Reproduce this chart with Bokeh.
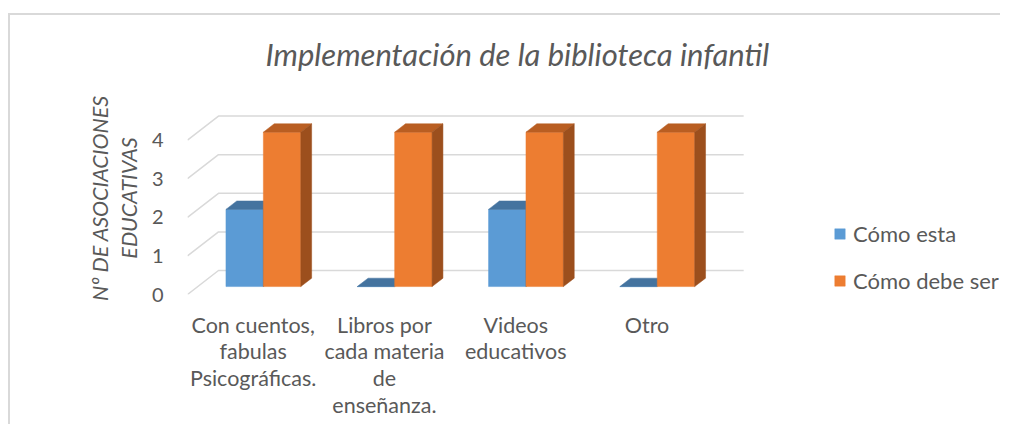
import numpy as np
from bokeh.plotting import figure
from bokeh.models import Legend, LegendItem, FixedTicker
from bokeh.embed import file_html
from bokeh.resources import INLINE

# ---------------- data ----------------
categories = ["Con cuentos,\nfabulas\nPsicográficas.",
              "Libros por\ncada materia\nde\nenseñanza.",
              "Videos\neducativos",
              "Otro"]
como_esta = [2, 0, 2, 0]
como_debe_ser = [4, 4, 4, 4]
series_names = ["Cómo esta", "Cómo debe ser"]
y_ticks = [0, 1, 2, 3, 4]
title_text = "Implementación de la biblioteca infantil"
y_title = "Nº DE ASOCIACIONES\nEDUCATIVAS"

# ---------------- style ----------------
FONT = "Lato"
TXT = "#595959"
GRID = "#D9D9D9"
front_cols = ["#5B9BD5", "#ED7D31"]
top_cols = ["#44739F", "#B95E22"]
side_cols = ["#3B648C", "#9C4F1D"]

# pseudo-3D depth (in data units)
DX, DY = 0.236, 0.622
F0, F1 = 0.33, 0.68
W = 0.285

n = len(categories)
p = figure(width=992, height=416, x_range=(-0.5, 5.692), y_range=(0, 5.0),
           output_backend="svg", toolbar_location=None,
           min_border_left=179, min_border_right=0,
           min_border_top=93, min_border_bottom=130)
# chart-area border (left and top edges) painted behind the transparent canvas border
p.styles = {"margin-left": "8px", "margin-top": "8px",
            "background-color": "white",
            "background-image": "linear-gradient(#D9D9D9, #D9D9D9), linear-gradient(#D9D9D9, #D9D9D9)",
            "background-size": "100% 2px, 2px 100%",
            "background-position": "0px 5px, 0px 5px",
            "background-repeat": "no-repeat"}
p.outline_line_color = None
p.grid.visible = False
p.background_fill_color = "white"
p.border_fill_color = None

# gridlines (back wall + side diagonals)
gx, gy = [], []
for v in y_ticks:
    gx.append([-0.5, -0.5 + DX, n - 0.5 + DX])
    gy.append([v, v + DY, v + DY])
p.multi_line(gx, gy, line_color=GRID, line_width=1.5)

# bars
ddx, ddy = (F1 - F0) * DX, (F1 - F0) * DY
legend_renderers = []
for i in range(n):
    for s, vals in enumerate([como_esta, como_debe_ser]):
        v = vals[i]
        x0 = i + F0 * DX - W + s * W
        x1 = x0 + W
        yb = F0 * DY
        yt = yb + v
        fr = p.quad(left=[x0], right=[x1], bottom=[yb], top=[yt],
                    fill_color=front_cols[s], line_color=front_cols[s], line_width=0.5)
        if i == 0:
            legend_renderers.append(fr)
        p.patch([x0, x1, x1 + ddx, x0 + ddx], [yt, yt, yt + ddy, yt + ddy],
                fill_color=top_cols[s], line_color=top_cols[s], line_width=0.5)
        if v > 0:
            p.patch([x1, x1 + ddx, x1 + ddx, x1], [yb, yb + ddy, yt + ddy, yt],
                    fill_color=side_cols[s], line_color=side_cols[s], line_width=0.5)

# axes
p.xaxis.ticker = FixedTicker(ticks=list(range(n)))
p.xaxis.major_label_overrides = {i: c for i, c in enumerate(categories)}
p.yaxis.ticker = FixedTicker(ticks=y_ticks)
for ax in (p.xaxis[0], p.yaxis[0]):
    ax.axis_line_color = None
    ax.major_tick_line_color = None
    ax.minor_tick_line_color = None
    ax.major_label_text_color = TXT
    ax.major_label_text_font = FONT
p.xaxis.major_label_text_font_size = "21.5px"
p.xaxis.major_label_text_line_height = 1.035
p.xaxis.major_label_standoff = 11
p.yaxis.major_label_text_font_size = "20px"
p.yaxis.major_label_standoff = 18
p.yaxis.axis_label = y_title
p.yaxis.axis_label_text_font = FONT
p.yaxis.axis_label_text_font_size = "21.5px"
p.yaxis.axis_label_text_font_style = "italic"
p.yaxis.axis_label_text_color = TXT
p.yaxis.axis_label_text_line_height = 1.1
p.yaxis.axis_label_standoff = 7

# title
p.title.text = title_text
p.title.text_font = FONT
p.title.text_font_size = "31px"
p.title.text_font_style = "italic"
p.title.text_color = TXT
p.title.align = "left"
p.title.vertical_align = "top"
p.title.offset = 78
p.title.standoff = 53

# legend
legend = Legend(items=[LegendItem(label=series_names[k], renderers=[legend_renderers[k]])
                       for k in range(2)],
                location=(646, 0), glyph_width=13, glyph_height=13,
                label_standoff=7, spacing=20, label_height=20,
                label_text_font=FONT, label_text_font_size="22px",
                label_text_color=TXT, border_line_color=None,
                background_fill_alpha=0, padding=0, margin=0)
p.add_layout(legend)

open("out.html", "w").write(file_html(p, INLINE))
